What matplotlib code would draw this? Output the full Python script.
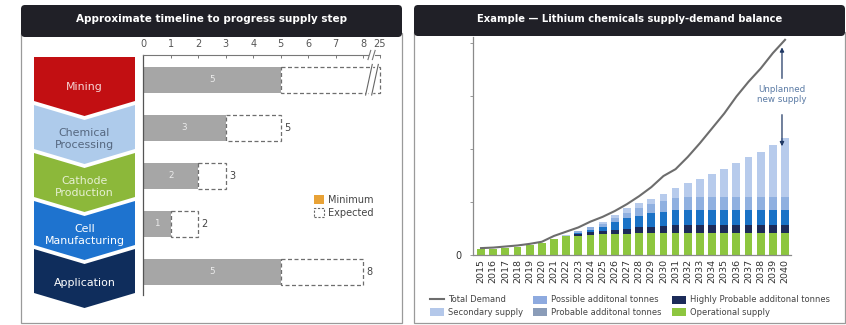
import numpy as np
import matplotlib
matplotlib.use("Agg")
import matplotlib.pyplot as plt
from matplotlib.patches import Polygon, Rectangle, FancyBboxPatch, Patch
from matplotlib.lines import Line2D

plt.rcParams['font.family'] = ['DejaVu Sans']

# ---------------- data: left panel ----------------
stages = ["Mining", "Chemical\nProcessing", "Cathode\nProduction", "Cell\nManufacturing", "Application"]
min_years = [5, 3, 2, 1, 5]
exp_years = [25, 5, 3, 2, 8]
axis_ticks = [0, 1, 2, 3, 4, 5, 6, 7, 8, 25]

# ---------------- data: right panel ----------------
years = [str(y) for y in range(2015, 2041)]
total_demand = [0.13, 0.14, 0.16, 0.18, 0.21, 0.25, 0.36, 0.44, 0.52, 0.63, 0.72, 0.83, 0.96,
                1.11, 1.28, 1.49, 1.62, 1.85, 2.11, 2.39, 2.67, 2.99, 3.27, 3.52, 3.81, 4.06]
operational = [0.11, 0.12, 0.14, 0.16, 0.18, 0.22, 0.31, 0.36, 0.36, 0.38, 0.39, 0.40, 0.40,
               0.41, 0.42, 0.42, 0.42, 0.42, 0.42, 0.42, 0.42, 0.42, 0.42, 0.42, 0.42, 0.42]
highly_probable = [0, 0, 0, 0, 0, 0, 0, 0, 0.03, 0.05, 0.06, 0.08, 0.10,
                   0.11, 0.11, 0.13, 0.15, 0.15, 0.15, 0.15, 0.15, 0.15, 0.15, 0.15, 0.15, 0.15]
probable = [0, 0, 0, 0, 0, 0, 0, 0, 0.02, 0.04, 0.08, 0.15, 0.19,
            0.22, 0.27, 0.27, 0.28, 0.28, 0.28, 0.28, 0.28, 0.28, 0.28, 0.28, 0.28, 0.28]
possible = [0, 0, 0, 0, 0, 0, 0, 0, 0.04, 0.05, 0.05, 0.06, 0.10,
            0.14, 0.16, 0.19, 0.22, 0.25, 0.25, 0.25, 0.25, 0.25, 0.25, 0.25, 0.25, 0.25]
secondary = [0, 0, 0, 0, 0, 0, 0, 0.01, 0.01, 0.01, 0.04, 0.06, 0.10,
             0.11, 0.09, 0.15, 0.20, 0.25, 0.33, 0.42, 0.52, 0.63, 0.74, 0.85, 0.98, 1.10]

W, H = 846, 325
fig = plt.figure(figsize=(W / 100, H / 100), dpi=100)

def frac(x0, y0, x1, y1):
    # pixel box (top-left origin) -> figure fraction rect
    return [x0 / W, (H - y1) / H, (x1 - x0) / W, (y1 - y0) / H]

# ---------------- background / decoration axes ----------------
bg = fig.add_axes([0, 0, 1, 1])
bg.set_xlim(0, W)
bg.set_ylim(H, 0)
bg.axis('off')
bg.set_zorder(0)

header_col = '#202027'
for (x0, x1, yb, title, fs) in [(21, 402, 33, "Approximate timeline to progress supply step", 7.5),
                                (414, 845, 32, "Example \u2014 Lithium chemicals supply-demand balance", 7.2)]:
    bg.add_patch(Rectangle((x0, yb), x1 - x0, 323 - yb, facecolor='white', edgecolor='#9a9a9a', lw=0.9))
    bg.add_patch(FancyBboxPatch((x0 + 4, 5 + 4), x1 - x0 - 8, yb - 5 - 4,
                                boxstyle="round,pad=4", facecolor=header_col, edgecolor='none'))
    bg.add_patch(Rectangle((x0, 20), x1 - x0, yb - 20, facecolor=header_col, edgecolor='none'))
    bg.text((x0 + x1) / 2, 19.5, title, color='white', fontsize=fs, fontweight='bold',
            ha='center', va='center')

# chevrons
chev_cols = ['#c20f12', '#aecbeb', '#8cb83a', '#1e73cf', '#0f2d5c']
chev_txt = ['#f6d6d6', '#55677f', '#e6f0d2', '#ffffff', '#ffffff']
cx0, cx1 = 34, 135
cmid = (cx0 + cx1) / 2
for i, (lab, fc, tc) in enumerate(zip(stages, chev_cols, chev_txt)):
    top = 57 + 48 * i
    sb = top + 44
    pts = [(cx0, top)]
    if i > 0:
        pts.append((cmid, top + 15))
    pts += [(cx1, top), (cx1, sb), (cmid, sb + 15), (cx0, sb)]
    bg.add_patch(Polygon(pts, closed=True, facecolor=fc, edgecolor='none'))
    ty = top + 30 if i == 0 else top + 34
    bg.text(cmid, ty, lab, color=tc, fontsize=7.9, ha='center', va='center', linespacing=1.25)

# ---------------- left chart ----------------
px_unit = 27.5
x0_pix = 143.3
xmax = 8.75
ax1 = fig.add_axes(frac(x0_pix, 55, x0_pix + xmax * px_unit, 295))
ax1.patch.set_alpha(0)
ax1.set_zorder(2)

def disp(v):
    return v if v <= 8 else 8.6

ypos = np.arange(len(stages))
ax1.barh(ypos, min_years, height=0.55, color='#a6a6a6', zorder=2)
exp_disp = [disp(v) for v in exp_years]
ax1.barh(ypos, np.array(exp_disp) - np.array(min_years), left=min_years, height=0.55,
         fill=False, edgecolor='#6e6e6e', linestyle=(0, (3.2, 2)), lw=0.9, zorder=2)
for y, mn, ex in zip(ypos, min_years, exp_years):
    ax1.text(mn / 2, y, str(mn), color='#ececec', fontsize=6.3, ha='center', va='center', zorder=3)
    if ex <= 8:
        ax1.text(ex + 0.12, y, str(ex), color='#444444', fontsize=7, ha='left', va='center')

# break marks on the Mining bar
for xb in (8.08, 8.25):
    ax1.add_patch(Polygon([(xb, 0.33), (xb + 0.1, 0.33), (xb + 0.3, -0.33), (xb + 0.2, -0.33)],
                          closed=True, facecolor='white', edgecolor='none', zorder=4))
for xb in (8.08, 8.3):
    ax1.plot([xb, xb + 0.25], [0.33, -0.33], color='#666666', lw=0.8, zorder=5, solid_capstyle='butt')

ax1.set_ylim(4.485, -0.515)
ax1.set_xlim(0, xmax)
tick_pos = [disp(v) for v in axis_ticks]
ax1.xaxis.tick_top()
ax1.set_xticks(tick_pos)
ax1.set_xticklabels([str(v) for v in axis_ticks])
ax1.tick_params(axis='x', direction='in', length=2.5, width=0.7, color='#777777',
                labelsize=7, labelcolor='#555555', pad=4)
ax1.set_yticks([])
for s in ('right', 'bottom'):
    ax1.spines[s].set_visible(False)
ax1.spines['top'].set_bounds(0, 8.6)
ax1.spines['top'].set_color('#777777')
ax1.spines['top'].set_linewidth(0.8)
ax1.spines['left'].set_color('#555555')
ax1.spines['left'].set_linewidth(0.9)
# axis break slashes
ax1.add_patch(Rectangle((8.2, -0.56), 0.22, 0.09, facecolor='white', edgecolor='none',
                        clip_on=False, zorder=6))
for xb in (8.17, 8.33):
    ax1.plot([xb, xb + 0.1], [-0.42, -0.61], color='#777777', lw=0.8, clip_on=False, zorder=7)

# left legend
lh = [Patch(facecolor='#e8a236', edgecolor='none'),
      Patch(facecolor='white', edgecolor='#666666', linestyle=(0, (2, 1.5)), lw=0.8)]
fig.legend(lh, ['Minimum', 'Expected'], loc='upper left',
           bbox_to_anchor=(305 / W, 1 - 186 / H), frameon=False, fontsize=7,
           handlelength=1.1, handleheight=1.0, handletextpad=0.4, labelspacing=0.3,
           labelcolor='#444444')

# ---------------- right chart ----------------
ax2 = fig.add_axes(frac(473, 255 - 4.12 * 53, 790.5, 255))
ax2.patch.set_alpha(0)
ax2.set_zorder(2)
x = np.arange(len(years))
col_op, col_hp, col_pr, col_po, col_se = '#8dc63f', '#1c2b59', '#1a72c6', '#8fb0e0', '#b7cbec'
bw = 0.64
bottom = np.zeros(len(years))
for vals, c in [(operational, col_op), (highly_probable, col_hp), (probable, col_pr),
                (possible, col_po), (secondary, col_se)]:
    ax2.bar(x, vals, bottom=bottom, width=bw, color=c, zorder=2)
    bottom += np.array(vals)
ax2.plot(x, total_demand, color='#6d6d6d', lw=1.5, zorder=3)

ax2.set_xlim(-0.66, 25.45)
ax2.set_ylim(0, 4.12)
ax2.set_xticks(x)
ax2.set_xticklabels(years, rotation=90)
ax2.set_yticks([0, 1, 2, 3, 4])
ax2.set_yticklabels(['0', '', '', '', ''])
ax2.tick_params(axis='x', length=0, labelsize=6.8, labelcolor='#333333', pad=3)
ax2.tick_params(axis='y', length=2, width=0.6, color='#888888', labelsize=7,
                labelcolor='#333333', pad=6)
for s in ('right', 'top'):
    ax2.spines[s].set_visible(False)
for s in ('left', 'bottom'):
    ax2.spines[s].set_color('#8a8a8a')
    ax2.spines[s].set_linewidth(0.9)

ax_x = 24.75
ax2.annotate('', xy=(ax_x, 3.97), xytext=(ax_x, 3.28),
             arrowprops=dict(arrowstyle='-|>', color='#1f3864', lw=0.9, mutation_scale=6))
ax2.annotate('', xy=(ax_x, 2.0), xytext=(ax_x, 2.7),
             arrowprops=dict(arrowstyle='-|>', color='#1f3864', lw=0.9, mutation_scale=6), zorder=5)
ax2.text(ax_x, 3.03, 'Unplanned\nnew supply', color='#5b7ba5', fontsize=6.3,
         ha='center', va='center', linespacing=1.2)

rh = [Line2D([0], [0], color='#6d6d6d', lw=1.5),
      Patch(facecolor='#b4c8ea'),
      Patch(facecolor='#8eaadf'),
      Patch(facecolor='#8a9cb8'),
      Patch(facecolor=col_hp),
      Patch(facecolor=col_op)]
rl = ['Total Demand', 'Secondary supply', 'Possible additonal tonnes',
      'Probable additonal tonnes', 'Highly Probable additonal tonnes', 'Operational supply']
fig.legend(rh, rl, ncol=3, loc='upper left', bbox_to_anchor=(422 / W, 1 - 288 / H),
           frameon=False, fontsize=6.0, handlelength=1.7, handleheight=1.1,
           handletextpad=0.5, columnspacing=1.2, labelspacing=0.45, labelcolor='#444444')

fig.savefig('out.png', dpi=100, facecolor='white')
